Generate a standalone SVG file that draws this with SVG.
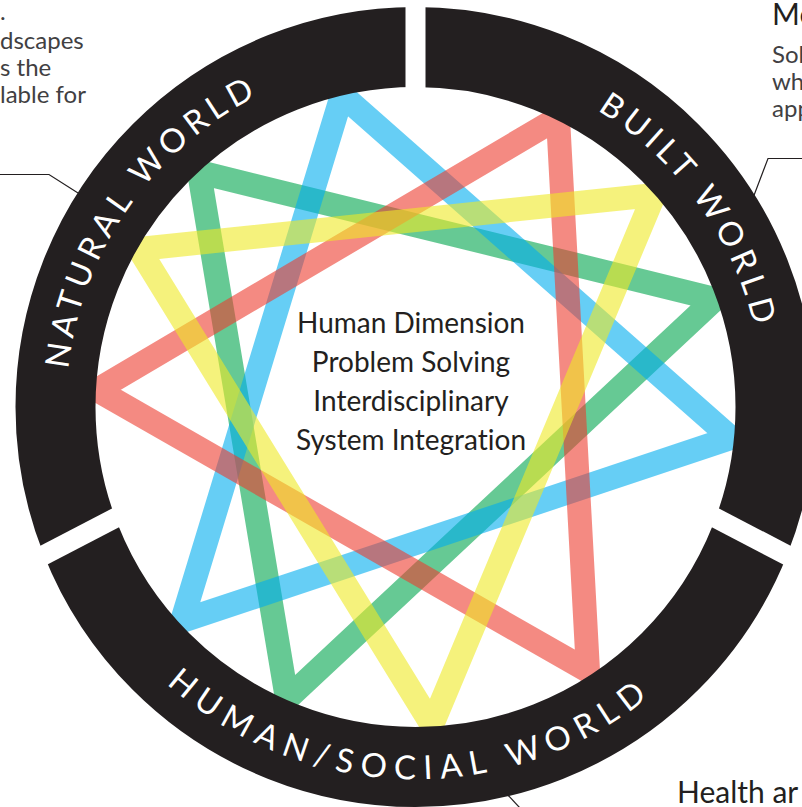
<svg xmlns="http://www.w3.org/2000/svg" width="802" height="807" viewBox="0 0 802 807">
<style>
text{font-variant-ligatures:none}
.tri{fill:none;stroke-width:24;stroke-linejoin:miter;stroke-opacity:0.6}
.ringtxt{font-family:Lato,"Liberation Sans",sans-serif;font-size:33px;fill:#ffffff;letter-spacing:5.5px}
.ctr{font-family:Lato,"Liberation Sans",sans-serif;font-size:28px;fill:#231f20;text-anchor:middle}
.side{font-family:Lato,"Liberation Sans",sans-serif;font-size:24px;fill:#414042}
.lead{fill:none;stroke:#231f20;stroke-width:1.2}
</style>
<defs>
<mask id="gaps" maskUnits="userSpaceOnUse" x="0" y="0" width="802" height="807">
<rect x="0" y="0" width="802" height="807" fill="#fff"/>
<g stroke="#000" stroke-width="20">
<line x1="415.5" y1="-5" x2="415.5" y2="110"/>
<line x1="0" y1="578" x2="150" y2="500"/>
<line x1="831" y1="578" x2="681" y2="500"/>
</g>
</mask>
<path id="arcNat" d="M113.3,581.5 A348,348 0 0 1 476,64.3"/>
<path id="arcBuilt" d="M381.4,60.7 A348,348 0 0 1 732.4,551"/>
<path id="arcHum" d="M48,465 A372,372 0 0 0 780.6,478.6"/>
</defs>
<g id="star">
<polygon id="tri-green" class="tri" stroke="#00a54d" points="199,172 715,299 287,699"/>
<polygon id="tri-blue" class="tri" stroke="#00aeef" points="342,95 731,438 182,621"/>
<polygon id="tri-red" class="tri" stroke="#ed3c2f" points="558,118 588,671 97,390"/>
<polygon id="tri-yellow" class="tri" stroke="#eee925" points="139,249 654,195 432,725"/>
</g>
<g id="ring">
<circle cx="415.5" cy="407" r="360" fill="none" stroke="#231f20" stroke-width="80" mask="url(#gaps)"/>
</g>
<g id="natural-world">
<text class="ringtxt"><textPath href="#arcNat" startOffset="50%" text-anchor="middle">NATURAL WORLD</textPath></text>
</g>
<g id="built-world">
<text class="ringtxt"><textPath href="#arcBuilt" startOffset="50%" text-anchor="middle">BUILT WORLD</textPath></text>
</g>
<g id="human-social-world">
<text class="ringtxt" style="letter-spacing:8px"><textPath href="#arcHum" startOffset="50%" text-anchor="middle">HUMAN/SOCIAL WORLD</textPath></text>
</g>
<g id="center-text">
<text class="ctr" x="411" y="333">Human Dimension</text>
<text class="ctr" x="411" y="372">Problem Solving</text>
<text class="ctr" x="411" y="411">Interdisciplinary</text>
<text class="ctr" x="411" y="450">System Integration</text>
</g>
<g id="note-left">
<text class="side" x="0" y="20">.</text>
<text class="side" x="0" y="49">dscapes</text>
<text class="side" x="0" y="76">s the</text>
<text class="side" x="0" y="103">lable for</text>
</g>
<g id="note-right">
<text class="side" x="772" y="25" style="font-size:30px;fill:#231f20">Mo</text>
<text class="side" x="772" y="63">Sol</text>
<text class="side" x="772" y="90">wh</text>
<text class="side" x="772" y="117">app</text>
</g>
<g id="note-bottom">
<text class="side" x="677" y="803" style="font-size:30px;fill:#231f20">Health ar</text>
</g>
<g id="connectors">
<polyline class="lead" points="0,174.5 49,174.5 78,193"/>
<polyline class="lead" points="802,158.5 768,158.5 753,198"/>
<line class="lead" x1="505" y1="792" x2="520" y2="808"/>
</g>
</svg>
